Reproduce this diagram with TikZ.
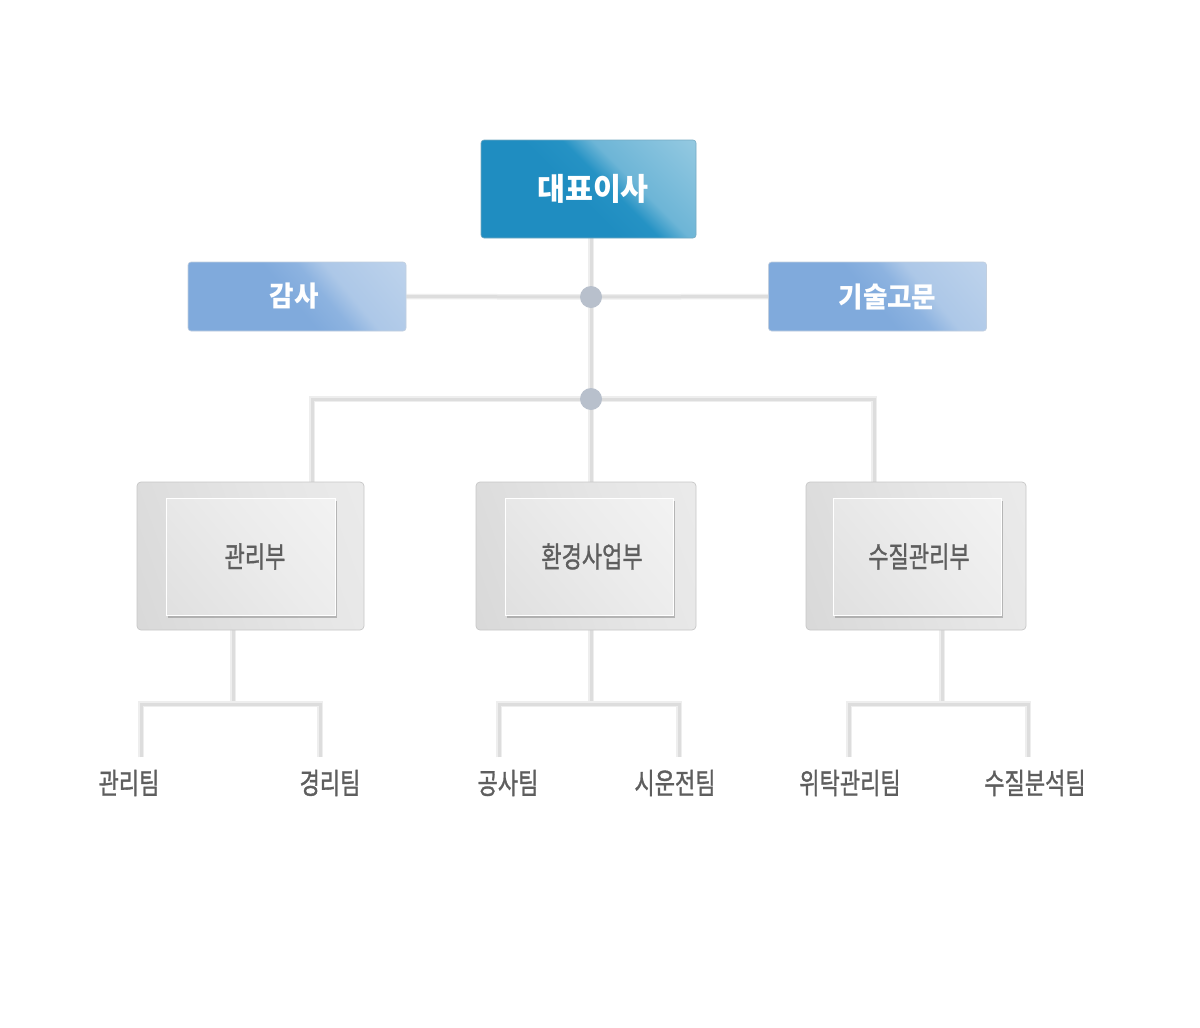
\documentclass[tikz,border=0pt]{standalone}
\usepackage{fontspec}
\newfontfamily\kr{Noto Sans CJK KR}
\newfontfamily\krm[FakeBold=1.2]{Noto Sans CJK KR}
\usetikzlibrary{shadows,calc}
\pgfdeclarelayer{bg}
\pgfsetlayers{bg,main}
\definecolor{ceoA}{HTML}{1F8DC1}
\definecolor{ceoB}{HTML}{2592C4}
\definecolor{ceoC}{HTML}{ADD6E8}
\definecolor{subA}{HTML}{80AADC}
\definecolor{subB}{HTML}{8DB3E0}
\definecolor{subC}{HTML}{CADBEF}
\definecolor{lineC}{HTML}{DDDDDD}
\definecolor{lineS}{HTML}{EEEEEE}
\definecolor{dotC}{HTML}{B8C0CC}
\definecolor{txtG}{HTML}{5E5E5E}
\definecolor{outA}{HTML}{D3D3D3}
\definecolor{outC}{HTML}{EEEEEE}
\definecolor{inA}{HTML}{DCDCDC}
\definecolor{inC}{HTML}{F6F6F6}
\pgfdeclarehorizontalshading{ceoshade}{100bp}{color(0bp)=(ceoA); color(46bp)=(ceoA); color(55bp)=(ceoB); color(62bp)=(ceoC!55!ceoA); color(100bp)=(ceoC)}
\pgfdeclarehorizontalshading{subshade}{100bp}{color(0bp)=(subA); color(48bp)=(subA); color(57bp)=(subB); color(64bp)=(subC!60!subA); color(100bp)=(subC)}
\pgfdeclarehorizontalshading{outshade}{100bp}{color(0bp)=(outA); color(60bp)=(outC!70!outA); color(100bp)=(outC)}
\pgfdeclarehorizontalshading{inshade}{100bp}{color(0bp)=(inA); color(55bp)=(inC!60!inA); color(100bp)=(inC)}
\tikzset{
  ceobox/.style={shading=ceoshade, shading angle=45, draw=ceoA!80!black!60, line width=0.6pt, rounded corners=3pt, minimum width=215pt, minimum height=98pt, inner sep=0pt, text=white},
  subbox/.style={shading=subshade, shading angle=40, draw=subA!80!black!40, line width=0.6pt, rounded corners=3pt, minimum width=218pt, minimum height=69pt, inner sep=0pt, text=white},
  outbox/.style={shading=outshade, shading angle=20, draw=black!22, line width=0.7pt, rounded corners=4pt, minimum width=#1, minimum height=148pt, inner sep=0pt},
  inbox/.style={shading=inshade, shading angle=40, draw=white, line width=1pt, minimum width=#1, minimum height=117pt, inner sep=0pt, text=txtG,
     drop shadow={shadow xshift=2pt, shadow yshift=-2.5pt, fill=black!45, opacity=0.55}},
  conn/.style={draw=lineC, line width=3pt, preaction={draw=lineS, line width=5.5pt}},
  jdot/.style={circle, fill=dotC, minimum size=22pt, inner sep=0pt},
  team/.style={text=txtG, inner sep=0pt}
}
\newcommand{\bigkr}[1]{{\kr\bfseries\fontsize{31}{33}\selectfont\scalebox{0.98}[1]{#1}}}
\newcommand{\midkr}[1]{{\kr\bfseries\fontsize{28}{30}\selectfont\scalebox{0.95}[1]{#1}}}
\newcommand{\grkr}[1]{{\krm\fontsize{29}{31}\selectfont\scalebox{0.76}[1]{#1}}}
\begin{document}
\begin{tikzpicture}[x=1pt,y=1pt]
\useasboundingbox (0,0) rectangle (1200,-1028);
% junction points and free ends
\coordinate (t1) at (312,-482);
\coordinate (t2) at (591,-482);
\coordinate (t3) at (874,-482);
\coordinate (u1) at (233,-630);
\coordinate (u2) at (591,-630);
\coordinate (u3) at (942,-630);
\coordinate (b1) at (233,-704);
\coordinate (b2) at (591,-704);
\coordinate (b3) at (942,-704);
\coordinate (e1) at (141,-757);
\coordinate (e2) at (320,-757);
\coordinate (e3) at (499,-757);
\coordinate (e4) at (679,-757);
\coordinate (e5) at (849,-757);
\coordinate (e6) at (1028,-757);
% boxes
\node[ceobox] (ceo) at (588.5,-189) {\hspace*{9pt}\bigkr{대표이사}};
\node[subbox] (audit) at (297,-296.5) {\midkr{감사}\hspace*{6pt}};
\node[subbox] (adv) at (877.5,-296.5) {\hspace*{20pt}\midkr{기술고문}};
\node[jdot] (dot1) at (591,-297) {};
\node[jdot] (dot2) at (591,-399) {};
% departments
\node[outbox=227pt] (d1) at (250.5,-556) {};
\node[inbox=169pt] (i1) at (250.5,-556.5) {\hspace*{9pt}\grkr{관리부}};
\node[outbox=220pt] (d2) at (586,-556) {};
\node[inbox=168pt] (i2) at (589,-556.5) {\hspace*{6pt}\grkr{환경사업부}};
\node[outbox=220pt] (d3) at (916,-556) {};
\node[inbox=168pt] (i3) at (917,-556.5) {\hspace*{4pt}\grkr{수질관리부}};
% teams
\node[team] (l1) at (129,-783) {\grkr{관리팀}};
\node[team] (l2) at (330,-783) {\grkr{경리팀}};
\node[team] (l3) at (508,-783) {\grkr{공사팀}};
\node[team] (l4) at (675,-783) {\grkr{시운전팀}};
\node[team] (l5) at (850,-783) {\grkr{위탁관리팀}};
\node[team] (l6) at (1035,-783) {\grkr{수질분석팀}};
% background and connectors behind
\begin{pgfonlayer}{bg}
\fill[white] (0,0) rectangle (1200,-1028);
\path[conn] (ceo.south -| dot1) -- (dot1.center);
\path[conn] (audit.east) -- (dot1.center);
\path[conn] (dot1.center) -- (adv.west);
\path[conn] (dot1.center) -- (dot2.center);
\path[conn] (dot2.center) -| (t1);
\path[conn] (dot2.center) -| (t3);
\path[conn] (dot2.center) -- (t2);
\path[conn] (u1) -- (b1);
\path[conn] (u2) -- (b2);
\path[conn] (u3) -- (b3);
\path[conn] (e1) |- (b1) -| (e2);
\path[conn] (e3) |- (b2) -| (e4);
\path[conn] (e5) |- (b3) -| (e6);
\end{pgfonlayer}
\end{tikzpicture}
\end{document}
